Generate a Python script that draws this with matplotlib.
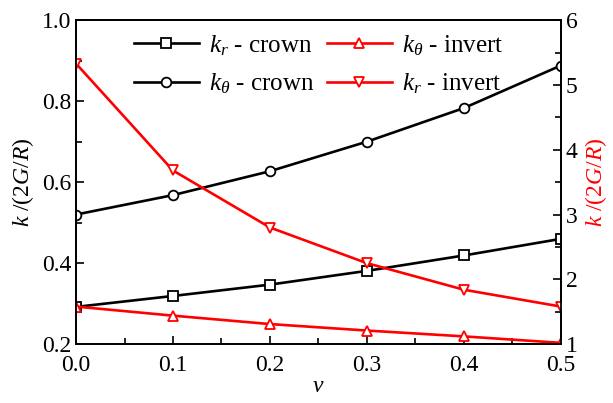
import numpy as np
import matplotlib
matplotlib.use("Agg")
import matplotlib.pyplot as plt
from matplotlib.ticker import MultipleLocator, FormatStrFormatter

plt.rcParams["font.family"] = "Liberation Serif"
plt.rcParams["mathtext.fontset"] = "custom"
plt.rcParams["mathtext.rm"] = "Liberation Serif"
plt.rcParams["mathtext.it"] = "Liberation Serif:italic"
plt.rcParams["font.size"] = 15

nu = [0.0, 0.1, 0.2, 0.3, 0.4, 0.5]
kr_crown = [0.292, 0.319, 0.347, 0.381, 0.419, 0.460]
kt_crown = [0.520, 0.568, 0.627, 0.700, 0.783, 0.888]
kt_invert = [1.58, 1.44, 1.31, 1.21, 1.12, 1.02]
kr_invert = [5.33, 3.68, 2.80, 2.25, 1.84, 1.58]

fig = plt.figure(figsize=(6.13, 4.03), dpi=100)
ax = fig.add_axes([0.124, 0.146, 0.791, 0.804])
ax2 = ax.twinx()

mk = dict(ms=7, mfc="white", mew=1.3, lw=1.9)
h1, = ax.plot(nu, kr_crown, "-s", color="black", label=r"$k_r$ - crown", **mk)
h2, = ax.plot(nu, kt_crown, "-o", color="black", label=r"$k_\theta$ - crown", **mk)
h3, = ax2.plot(nu, kt_invert, "-^", color="red", label=r"$k_\theta$ - invert", **mk)
h4, = ax2.plot(nu, kr_invert, "-v", color="red", label=r"$k_r$ - invert", **mk)

ax.set_xlim(0, 0.5)
ax.set_ylim(0.2, 1.0)
ax2.set_ylim(1, 6)
ax.xaxis.set_major_locator(MultipleLocator(0.1))
ax.xaxis.set_minor_locator(MultipleLocator(0.05))
ax.yaxis.set_major_locator(MultipleLocator(0.2))
ax.yaxis.set_minor_locator(MultipleLocator(0.1))
ax2.yaxis.set_major_locator(MultipleLocator(1))
ax2.yaxis.set_minor_locator(MultipleLocator(0.5))
ax.xaxis.set_major_formatter(FormatStrFormatter("%.1f"))
ax.yaxis.set_major_formatter(FormatStrFormatter("%.1f"))

for a in (ax, ax2):
    a.tick_params(which="both", direction="in", labelsize=17)
    a.tick_params(which="major", length=6, width=1.2)
    a.tick_params(which="minor", length=4, width=1.2)
    for s in a.spines.values():
        s.set_linewidth(1.3)
ax.tick_params(axis="x", pad=8)

ax.set_xlabel(r"$v$", fontsize=17, labelpad=0)
ax.set_ylabel(r"$k$ /(2$G$/$R$)", fontsize=17, labelpad=4)
ax2.set_ylabel(r"$k$ /(2$G$/$R$)", fontsize=17, color="red", labelpad=4)

ax.legend(handles=[h1, h2, h3, h4], ncol=2, frameon=False, fontsize=18,
          handlelength=2.6, columnspacing=0.5, handletextpad=0.4,
          labelspacing=0.55, loc="upper center", bbox_to_anchor=(0.5, 1.03))

fig.savefig("out.png", dpi=100)
